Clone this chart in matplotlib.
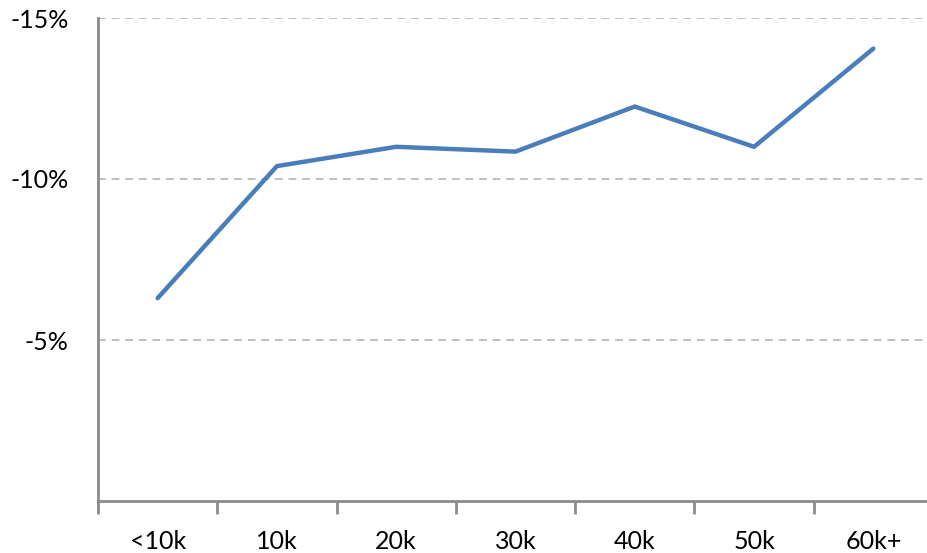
import matplotlib
matplotlib.use("Agg")
import matplotlib.pyplot as plt
from matplotlib.ticker import FixedLocator, NullFormatter

categories = ["<10k", "10k", "20k", "30k", "40k", "50k", "60k+"]
values = [-6.3, -10.4, -11.0, -10.85, -12.25, -11.0, -14.05]
y_ticks = [-15, -10, -5]
y_tick_labels = ["-15%", "-10%", "-5%"]

plt.rcParams['font.family'] = ['Lato', 'DejaVu Sans']

fig = plt.figure(figsize=(9.28, 5.53), dpi=100)
ax = fig.add_axes([98/928, 52/553, 835/928, 483/553])

x = list(range(len(categories)))
ax.plot(x, values, color="#4A7EBB", linewidth=3.2, solid_capstyle="round", solid_joinstyle="miter", zorder=3)

ax.set_xlim(-0.5, len(categories) - 0.5)
ax.set_ylim(0, -15)

ax.set_yticks(y_ticks)
ax.set_yticklabels(y_tick_labels, fontsize=18)
ax.tick_params(axis="y", length=0, pad=21)
for t in y_ticks:
    ax.axhline(t, color="#BFBFBF", linewidth=1.4, linestyle=(0, (4, 3)), zorder=1)

ax.xaxis.set_major_locator(FixedLocator([i - 0.5 for i in range(len(categories) + 1)]))
ax.xaxis.set_major_formatter(NullFormatter())
ax.xaxis.set_minor_locator(FixedLocator(x))
ax.set_xticklabels(categories, minor=True, fontsize=18)
ax.tick_params(axis="x", which="minor", length=0, pad=21)
ax.tick_params(axis="x", which="major", length=9, width=2, color="#8C8C8C", direction="out")

for s in ["top", "right"]:
    ax.spines[s].set_visible(False)
for s in ["left", "bottom"]:
    ax.spines[s].set_color("#8C8C8C")
    ax.spines[s].set_linewidth(2)

fig.savefig("out.png", dpi=100)
